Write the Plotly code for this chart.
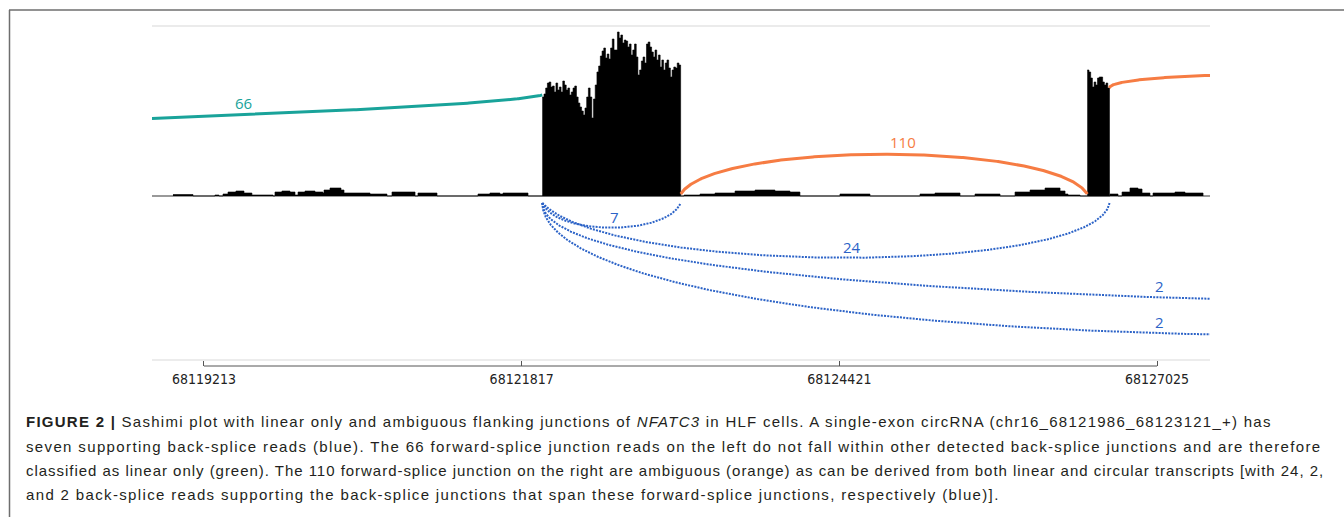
import numpy as np
import plotly.graph_objects as go

# ---------------- data ----------------
# genomic window (chr16) and axis ticks
view_start, view_end = 68118787, 68127459
tick_positions = [68119213, 68121817, 68124421, 68127025]

# read depth over the circRNA exon (fixed-step bins)
exon1_start = 68121986
exon1_step = 14
exon1_depth = [99, 102, 108, 113, 114, 109, 110, 104, 113, 106,
               109, 104, 115, 111, 106, 108, 101, 104, 108, 110,
               99, 93, 89, 85, 81, 88, 99, 108, 99, 78,
               97, 111, 124, 130, 140, 145, 148, 138, 142, 137,
               148, 157, 146, 146, 164, 158, 161, 153, 156, 155,
               149, 152, 141, 146, 152, 139, 121, 126, 135, 139,
               133, 152, 154, 149, 144, 139, 146, 136, 141, 129,
               136, 126, 133, 136, 128, 119, 126, 129, 128, 133,
               131]

# read depth over the downstream exon (fixed-step bins)
exon2_start = 68126453
exon2_step = 14
exon2_depth = [126, 124, 118, 109, 114, 111, 118, 119, 119, 114, 111, 113, 108]

# low intronic read depth (step profile: value holds until next position)
intron_pos = [68118959, 68119123, 68119303, 68119336, 68119369, 68119410, 68119475,
              68119541, 68119606, 68119779, 68119795, 68119852, 68119918, 68119959,
              68119984, 68120041, 68120123, 68120188, 68120197, 68120246, 68120295,
              68120336, 68120361, 68120574, 68120713, 68120754, 68120943, 68120967,
              68121123, 68121459, 68121557, 68121639, 68121664, 68121869,
              68123148, 68123279, 68123402, 68123566, 68123730, 68123893, 68124016,
              68124098, 68124426, 68124672, 68125082, 68125205, 68125410, 68125533,
              68125738, 68125861, 68125984, 68126107, 68126230, 68126271, 68126295,
              68126394, 68126639, 68126705, 68126738, 68126803, 68126869, 68126902,
              68126967, 68126992, 68127090, 68127172, 68127254, 68127402]
intron_depth = [1.5, 0, 1, 0, 2, 4, 5, 3, 1, 0, 4, 5, 4, 1, 4, 5, 4, 3, 6, 8, 8, 6, 3,
                2, 0, 4, 0, 3, 0, 2, 3, 2, 3, 0,
                1, 2, 3, 5, 6, 5, 4, 0, 2, 0, 2, 3, 0, 2, 0, 4, 6, 8, 5, 2, 1, 0,
                2, 0, 4, 8, 7, 3, 0, 3, 3, 4, 3, 0]

# forward-splice junctions (drawn above the axis)
fsj_start = [68111800, 68123121, 68126635]
fsj_end = [68121986, 68126453, 68131480]
fsj_reads = [66, 110, None]
fsj_class = ["linear only", "ambiguous", "ambiguous"]

# back-splice junctions (drawn below the axis)
bsj_start = [68121986, 68121986, 68121986, 68121986]
bsj_end = [68123121, 68126635, 68130656, 68131066]
bsj_reads = [7, 24, 2, 2]

# ---------------- styling ----------------
W, H = 1344, 517
PX_LEFT, PX_RIGHT = 152, 1210
PX_TOP, PX_BOTTOM = 26, 366
class_color = {"linear only": "#19a39a", "ambiguous": "#f67c43"}
bsj_color = "#2c63c7"

# arc shapes: (start depth, (frac, depth) ctrl 1, (frac, depth) ctrl 2, end depth)
fsj_shape = [
    (40, (0.483, 70), (0.949, 85), 101),
    (2, (0.08, 55), (0.92, 55), 2),
    (108, (0.0, 125), (0.492, 128), 110),
]
bsj_shape = [
    (-7, (0.1, -40), (0.9, -40), -7),
    (-7, (0.12, -80), (0.98, -80), -7),
    (-7, (0.0, -70), (0.338, -105), -110),
    (-7, (0.0, -88), (0.305, -160), -135),
]
# where along each arc its read count is written
fsj_label_x = [68119533, 68124943, None]
bsj_label_x = [68122574, 68124525, 68127049, 68127049]


def bezier(x0, x3, shape, n=400):
    y0, (f1, y1), (f2, y2), y3 = shape
    p0 = np.array([x0, y0], float)
    p1 = np.array([x0 + f1 * (x3 - x0), y1], float)
    p2 = np.array([x0 + f2 * (x3 - x0), y2], float)
    p3 = np.array([x3, y3], float)
    t = np.linspace(0, 1, n)[:, None]
    pts = (1 - t) ** 3 * p0 + 3 * (1 - t) ** 2 * t * p1 + 3 * (1 - t) * t ** 2 * p2 + t ** 3 * p3
    return pts[:, 0], pts[:, 1]


fig = go.Figure()

# coverage
def add_cov(xs, ys):
    fig.add_trace(go.Scatter(x=xs, y=ys, mode="lines", line=dict(shape="hv", width=0.6, color="black"),
                             fill="tozeroy", fillcolor="black", hoverinfo="skip"))

add_cov(intron_pos, intron_depth)
for start, step, depth in [(exon1_start, exon1_step, exon1_depth), (exon2_start, exon2_step, exon2_depth)]:
    xs = list(start + step * np.arange(len(depth))) + [start + step * len(depth)]
    add_cov(xs, list(depth) + [0])

annotations = []

# forward-splice arcs
for s, e, r, c, shp, lx in zip(fsj_start, fsj_end, fsj_reads, fsj_class, fsj_shape, fsj_label_x):
    xs, ys = bezier(s, e, shp)
    col = class_color[c]
    fig.add_trace(go.Scatter(x=xs, y=ys, mode="lines", line=dict(color=col, width=3), hoverinfo="skip"))
    if r is not None and lx is not None:
        annotations.append(dict(x=lx, y=float(np.interp(lx, xs, ys)) + 0.5, xref="x", yref="y",
                                text=str(r), showarrow=False, yanchor="bottom",
                                font=dict(family="Open Sans", size=15, color=col)))

# back-splice arcs
for s, e, r, shp, lx in zip(bsj_start, bsj_end, bsj_reads, bsj_shape, bsj_label_x):
    xs, ys = bezier(s, e, shp)
    fig.add_trace(go.Scatter(x=xs, y=ys, mode="lines",
                             line=dict(color=bsj_color, width=2, dash="2px,1.2px"), hoverinfo="skip"))
    annotations.append(dict(x=lx, y=float(np.interp(lx, xs, ys)) - 1, xref="x", yref="y",
                            text=str(r), showarrow=False, yanchor="bottom",
                            font=dict(family="Open Sans", size=15, color=bsj_color)))

# caption (per-line letter spacing keeps the justified block width)
caption_lines = [
    "<b>FIGURE 2 |</b> Sashimi plot with linear only and ambiguous flanking junctions of <i>NFATC3</i> in HLF cells. "
    "A single-exon circRNA (chr16_68121986_68123121_+) has",
    "seven supporting back-splice reads (blue). The 66 forward-splice junction reads on the left do not fall "
    "within other detected back-splice junctions and are therefore",
    "classified as linear only (green). The 110 forward-splice junction on the right are ambiguous (orange) "
    "as can be derived from both linear and circular transcripts [with 24, 2,",
    "and 2 back-splice reads supporting the back-splice junctions that span these forward-splice junctions, "
    "respectively (blue)].",
]
caption_spacing = [1.26, 1.36, 0.97, 1.35]
caption_y = [421, 446, 470, 494]
for txt, sp, py in zip(caption_lines, caption_spacing, caption_y):
    annotations.append(dict(x=24 / W, y=1 - py / H, xref="paper", yref="paper", xanchor="left",
                            yanchor="middle", showarrow=False, align="left",
                            text=f'<span style="letter-spacing:{sp}px">{txt}</span>',
                            font=dict(family="Liberation Sans", size=15, color="#231f20")))

shapes = [
    # panel frame
    dict(type="line", xref="paper", yref="paper", x0=9.5 / W, x1=9.5 / W, y0=0, y1=1 - 10 / H,
         line=dict(color="#6e6e6e", width=1.5)),
    dict(type="line", xref="paper", yref="paper", x0=9 / W, x1=1, y0=1 - 10 / H, y1=1 - 10 / H,
         line=dict(color="#6e6e6e", width=1.5)),
    # track borders
    dict(type="line", xref="x domain", yref="y domain", x0=0, x1=1, y0=1, y1=1,
         line=dict(color="#ebebeb", width=2)),
    dict(type="line", xref="x domain", yref="y", x0=0, x1=1, y0=-164, y1=-164,
         line=dict(color="#e6e6e6", width=1.5)),
    # coordinate ruler
    dict(type="line", xref="x", yref="y domain", x0=tick_positions[0], x1=tick_positions[-1], y0=0, y1=0,
         line=dict(color="#555555", width=1)),
]

fig.update_layout(
    width=W, height=H, margin=dict(l=0, r=0, t=0, b=0),
    paper_bgcolor="white", plot_bgcolor="white", showlegend=False,
    annotations=annotations, shapes=shapes,
    xaxis=dict(domain=[PX_LEFT / W, PX_RIGHT / W], range=[view_start, view_end],
               tickvals=tick_positions, ticktext=[str(v) for v in tick_positions],
               ticks="inside", ticklen=5, tickwidth=1, tickcolor="#555555",
               showgrid=False, zeroline=False, showline=False, ticklabelstandoff=3,
               tickfont=dict(family="DejaVu Sans Condensed, DejaVu Sans", size=14, color="#222222")),
    yaxis=dict(domain=[1 - PX_BOTTOM / H, 1 - PX_TOP / H], range=[-170, 170],
               showticklabels=False, showgrid=False, ticks="",
               zeroline=True, zerolinecolor="#999999", zerolinewidth=2),
)

fig.write_html("out.html")
